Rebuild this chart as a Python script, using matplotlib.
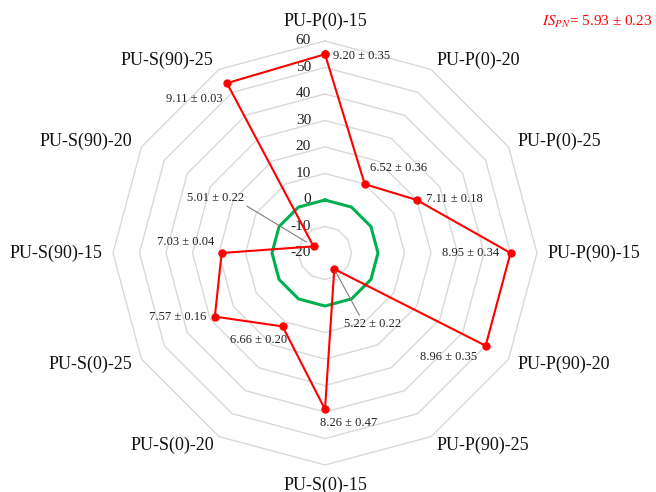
import numpy as np
import matplotlib
matplotlib.use('Agg')
from matplotlib import pyplot as plt

plt.rcParams['font.family'] = ['Liberation Serif', 'DejaVu Serif']
plt.rcParams['mathtext.fontset'] = 'stix'

categories = ['PU-P(0)-15', 'PU-P(0)-20', 'PU-P(0)-25',
              'PU-P(90)-15', 'PU-P(90)-20', 'PU-P(90)-25',
              'PU-S(0)-15', 'PU-S(0)-20', 'PU-S(0)-25',
              'PU-S(90)-15', 'PU-S(90)-20', 'PU-S(90)-25']
values = [55, 10, 20, 50, 50, -13, 39, 12, 28, 19, -15, 54]
baseline = [0, 0, 0, 0, 0, 0, 0, 0, 0, 0, 0, 0]
value_labels = ['9.20 ± 0.35', '6.52 ± 0.36', '7.11 ± 0.18',
                '8.95 ± 0.34', '8.96 ± 0.35', '5.22 ± 0.22',
                '8.26 ± 0.47', '6.66 ± 0.20', '7.57 ± 0.16',
                '7.03 ± 0.04', '5.01 ± 0.22', '9.11 ± 0.03']
levels = [-20, -10, 0, 10, 20, 30, 40, 50, 60]
summary = r'$IS_{PN}$= 5.93 ± 0.23'

# label offsets in pixels (dx, dy, ha)
offsets = [(8, -2, 'left'), (5, 16, 'left'), (9, 1, 'left'),
           (-11, 0, 'right'), (-9, -11, 'right'), (38, -55, 'center'),
           (24, -14, 'center'), (-24, -14, 'center'), (-8, 0, 'right'),
           (-7, 11, 'right'), (-98, 48, 'center'), (-4, -16, 'right')]

n = len(categories)
theta = np.arange(n) * 2 * np.pi / n
theta_c = np.r_[theta, theta[0]]

fig = plt.figure(figsize=(6.56, 4.92), dpi=100)
ax = fig.add_axes([113 / 656, 27 / 492, 424 / 656, 424 / 492], projection='polar')
ax.set_theta_zero_location('N')
ax.set_theta_direction(-1)
ax.set_ylim(levels[0], levels[-1])
ax.set_xticks([])
ax.set_yticks([])
ax.grid(False)
ax.spines['polar'].set_visible(False)
ax.patch.set_visible(False)

# polygon grid
for lv in levels[1:]:
    ax.plot(theta_c, [lv] * (n + 1), color='#d9d9d9', lw=1, zorder=1, clip_on=False)

for lv in levels:
    ax.annotate(str(lv), xy=(0, lv), xytext=(-14, 0), textcoords='offset pixels',
                ha='right', va='center', fontsize=11, color='#222222')

ax.plot(theta_c, np.r_[baseline, baseline[0]], color='#00b050', lw=2.2, zorder=2)
ax.plot(theta_c, np.r_[values, values[0]], color='#ff0000', lw=1.5,
        marker='o', ms=5, zorder=3, clip_on=False)

for i, (t, v, lab) in enumerate(zip(theta, values, value_labels)):
    dx, dy, ha = offsets[i]
    arrow = None
    if i == 5:
        arrow = dict(arrowstyle='-', color='#7f7f7f', lw=0.8,
                     relpos=(0.3, 1.0), shrinkA=0, shrinkB=2)
    elif i == 10:
        arrow = dict(arrowstyle='-', color='#7f7f7f', lw=0.8,
                     relpos=(1.0, 0.0), shrinkA=0, shrinkB=6)
    ax.annotate(lab, xy=(t, v), xytext=(dx, dy), textcoords='offset pixels',
                ha=ha, va='center', fontsize=9, color='#222222',
                arrowprops=arrow, zorder=4)

for t, name in zip(theta, categories):
    s, c = np.cos(t), np.sin(t)
    if abs(c) < 0.1:
        ha, r = 'center', 67.5
    else:
        ha, r = ('left' if c > 0 else 'right'), 64
    ax.text(t, r, name, ha=ha, va='center', fontsize=13, color='#111111')

fig.text(0.994, 1 - 22 / 492, summary, color='#ff0000', fontsize=11,
         ha='right', va='center')

fig.savefig('out.png', dpi=100)
